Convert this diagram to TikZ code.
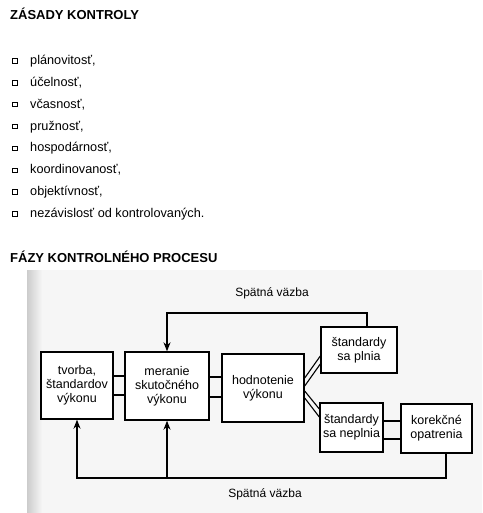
\documentclass[tikz,border=0pt]{standalone}
\usepackage{fontspec}
\setmainfont{Liberation Sans}
\usetikzlibrary{arrows.meta}
\newcommand\ttlfont{\fontsize{13}{15}\selectfont\bfseries}
\newcommand\lstfont{\fontsize{12.7}{15}\selectfont}
\newcommand\bxfont{\fontsize{12.5}{14}\selectfont}
\newcommand\lblfont{\fontsize{12}{14}\selectfont}
\begin{document}
\begin{tikzpicture}[x=1pt,y=-1pt,
  box/.style={draw, line width=1.4pt, fill=white, align=center, inner sep=0pt, font=\bxfont},
  link/.style={line width=1.1pt},
  fb/.style={line width=1.2pt, -{Stealth[length=9pt,width=7pt]}},
  lbl/.style={inner sep=0pt, font=\lblfont},
  bul/.style={draw, line width=1pt, minimum width=5pt, minimum height=4.5pt, inner sep=0pt},
  item/.style={anchor=base west, inner sep=0pt, font=\lstfont}]
\useasboundingbox (0,0) rectangle (482,513);
\fill[white] (0,0) rectangle (482,513);
% scanned area
\fill[gray!7] (27,270) rectangle (482,513);
\shade[left color=gray!40, right color=gray!7] (27,270) rectangle (42,513);

% headings
\node[anchor=base west, inner sep=0pt, font=\ttlfont] (t1) at (10,19.5) {ZÁSADY KONTROLY};
\node[anchor=base west, inner sep=0pt, font=\ttlfont] (t2) at (10,262) {FÁZY KONTROLNÉHO PROCESU};

% list
\foreach \t [count=\i] in {{plánovitosť,},{účelnosť,},{včasnosť,},{pružnosť,},{hospodárnosť,},{koordinovanosť,},{objektívnosť,},{nezávislosť od kontrolovaných.}}{
  \pgfmathsetmacro\yy{64.5+(\i-1)*21.86}
  \node[bul] (b\i) at (14.5,\yy-3.5) {};
  \node[item] (l\i) at (30,\yy) {\t};
}

% boxes
\node[box, minimum width=72pt, minimum height=67pt] (tvorba) at (77,385.5) {tvorba,\\štandardov\\výkonu};
\node[box, minimum width=84pt, minimum height=68pt] (meranie) at (167,386) {meranie\\skutočného\\výkonu};
\node[box, minimum width=82pt, minimum height=68pt] (hodn) at (263,388) {hodnotenie\\výkonu};
\node[box, minimum width=76pt, minimum height=46pt] (plnia) at (359,350) {štandardy\\sa plnia};
\node[box, minimum width=63pt, minimum height=49pt] (neplnia) at (351.5,427.5) {štandardy\\sa neplnia};
\node[box, minimum width=71pt, minimum height=49pt] (kor) at (436.5,428.5) {korekčné\\opatrenia};

% double connectors
\draw[link] ([yshift=9.5pt]tvorba.east) -- ([yshift=9.5pt]tvorba.east -| meranie.west);
\draw[link] ([yshift=-9.5pt]tvorba.east) -- ([yshift=-9.5pt]tvorba.east -| meranie.west);
\draw[link] ([yshift=9pt]meranie.east) -- ([yshift=9pt]meranie.east -| hodn.west);
\draw[link] ([yshift=-11pt]meranie.east) -- ([yshift=-11pt]meranie.east -| hodn.west);
\draw[link] ([yshift=6.5pt]neplnia.east) -- ([yshift=6.5pt]neplnia.east -| kor.west);
\draw[link] ([yshift=-11.5pt]neplnia.east) -- ([yshift=-11.5pt]neplnia.east -| kor.west);

% diagonal connectors
\draw[link] ([yshift=10pt]hodn.east) -- ([yshift=-6pt]plnia.west);
\draw[link] ([yshift=2pt]hodn.east) -- ([yshift=-14pt]plnia.west);
\draw[link] ([yshift=-3pt]hodn.east) -- ([yshift=18.5pt]neplnia.west);
\draw[link] ([yshift=-10pt]hodn.east) -- ([yshift=10.5pt]neplnia.west);

% feedback top
\coordinate (ft) at (367,313);
\draw[fb] (plnia.north -| ft) -- (ft) -| (meranie.north);
\node[lbl] (fbtop) at (272,293) {Spätná väzba};

% feedback bottom
\coordinate (fbot) at (446,478);
\draw[fb] (kor.south -| fbot) -- (fbot) -| (tvorba.south);
\draw[fb] (meranie.south |- fbot) -- (meranie.south);
\node[lbl] (fbbot) at (265,494) {Spätná väzba};
\end{tikzpicture}
\end{document}
